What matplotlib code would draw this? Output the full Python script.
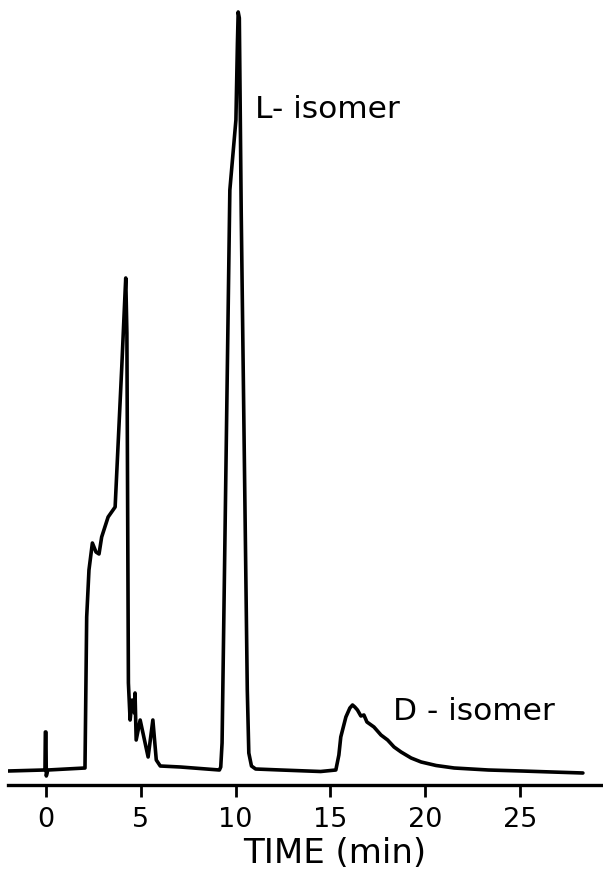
import matplotlib
matplotlib.use("Agg")
import matplotlib.pyplot as plt
import numpy as np

# chromatogram trace: time (min) and detector response (arb. units)
time_min = [-2.00, -0.11, -0.05, -0.03, 0.00, 0.02, 0.10,
            2.06, 2.15, 2.27, 2.45, 2.64, 2.80, 2.94, 3.28, 3.65,
            4.00, 4.18, 4.21, 4.27, 4.35, 4.44, 4.55, 4.67, 4.70,
            4.76, 4.97, 5.39, 5.64, 5.82, 6.03, 7.09,
            9.15, 9.22, 9.29, 9.70, 10.02, 10.10, 10.14, 10.20,
            10.30, 10.62, 10.70, 10.84, 11.06, 12.38,
            14.49, 15.29, 15.45, 15.55, 15.82, 16.03, 16.17, 16.29, 16.43,
            16.61, 16.77, 16.93, 17.30, 17.67, 18.02, 18.36, 18.73, 19.26,
            19.79, 20.58, 21.53, 23.33, 25.10, 26.69, 28.32]
response = [12, 13, 13, 51, 51, 7, 13,
            15, 166, 213, 240, 231, 229, 246, 266, 276,
            416, 493, 505, 450, 100, 63, 83, 70, 90,
            43, 63, 26, 63, 23, 17, 16,
            13, 16, 40, 593, 663, 740, 771, 765,
            570, 93, 30, 17, 14, 13,
            11.5, 13, 28, 46, 66, 75, 78, 76, 73,
            67, 68, 61, 56, 48, 43, 36, 31, 25,
            21, 17.5, 15, 13, 12, 11, 10]

ticks = [0, 5, 10, 15, 20, 25]

fig = plt.figure(figsize=(6.03, 8.73), dpi=100)
ax = fig.add_axes([8 / 603, 88 / 873, 595 / 603, 785 / 873])

ax.plot(time_min, response, color="black", lw=2.6, solid_joinstyle="round",
        solid_capstyle="round")

ax.set_xlim(-2.0, 29.38)
ax.set_ylim(-2, 783)

for s in ["left", "top", "right"]:
    ax.spines[s].set_visible(False)
ax.spines["bottom"].set_linewidth(2.4)
ax.set_yticks([])
ax.set_xticks(ticks)
ax.set_xticklabels([str(t) for t in ticks], fontsize=19.5, family="DejaVu Sans")
ax.tick_params(axis="x", direction="out", length=8.6, width=2.0, pad=7)
ax.set_xlabel("TIME (min)", fontsize=24.5, family="DejaVu Sans")
ax.xaxis.set_label_coords((335 - 8) / 595, -52 / 785)

ax.text(11.03, 673, "L- isomer", fontsize=22.5, family="DejaVu Sans", va="center", ha="left")
ax.text(18.30, 72, "D - isomer", fontsize=22.5, family="DejaVu Sans", va="center", ha="left")

fig.savefig("out.png", dpi=100)
